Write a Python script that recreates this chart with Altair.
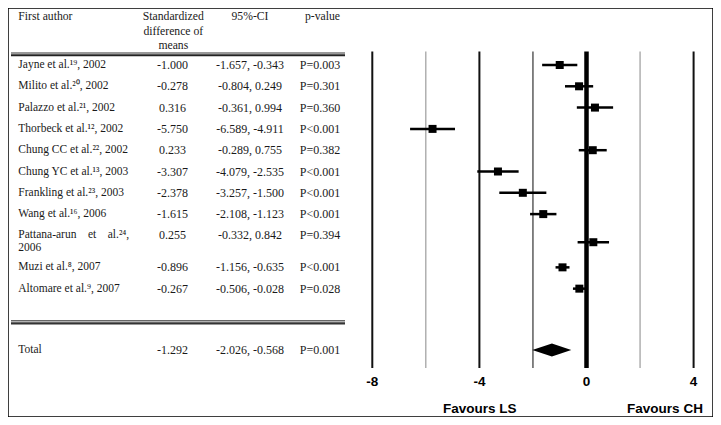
import altair as alt
import pandas as pd

# ---- data ----
authors = [
    "Jayne et al.\u00b9\u2079, 2002",
    "Milito et al.\u00b2\u2070, 2002",
    "Palazzo et al.\u00b2\u00b9, 2002",
    "Thorbeck et al.\u00b9\u00b2, 2002",
    "Chung CC et al.\u00b2\u00b2, 2002",
    "Chung YC et al.\u00b9\u00b3, 2003",
    "Frankling et al.\u00b2\u00b3, 2003",
    "Wang et al.\u00b9\u2076, 2006",
    "Pattana-arun\u00a0\u00a0\u00a0\u00a0et\u00a0\u00a0\u00a0\u00a0al.\u00b2\u2074,\n2006",
    "Muzi et al.\u2078, 2007",
    "Altomare et al.\u2079, 2007",
]
smd = [-1.000, -0.278, 0.316, -5.750, 0.233, -3.307, -2.378, -1.615, 0.255, -0.896, -0.267]
ci_lo = [-1.657, -0.804, -0.361, -6.589, -0.289, -4.079, -3.257, -2.108, -0.332, -1.156, -0.506]
ci_hi = [-0.343, 0.249, 0.994, -4.911, 0.755, -2.535, -1.500, -1.123, 0.842, -0.635, -0.028]
pvals = ["P=0.003", "P=0.301", "P=0.360", "P<0.001", "P=0.382", "P<0.001",
         "P<0.001", "P<0.001", "P=0.394", "P<0.001", "P=0.028"]
total_label = "Total"
total_smd = -1.292
total_lo = -2.026
total_hi = -0.568
total_p = "P=0.001"

headers = ["First author", "Standardized\ndifference of\nmeans", "95%-CI", "p-value"]
grid_values = [-8, -6, -4, -2, 0, 2, 4]
tick_values = [-8, -4, 0, 4]
favour_labels = ["Favours LS", "Favours CH"]

# ---- layout (row slots, pixel anchors, styles) ----
text_row = [0, 1, 2, 3, 4, 5, 6, 7, 8, 9.5, 10.5]
mark_row = [0, 1, 2, 3, 4, 5, 6, 7, 8.32, 9.5, 10.5]
total_row = 13.38
diamond_half = 0.30
grid_width = [2, 1, 2, 1.2, 4.5, 1, 2]
grid_color = ["#111", "#888", "#111", "#333", "#000", "#888", "#111"]

W, H = 705, 409
UNIT = 21.3
Y0 = -57 / UNIT
yscale = alt.Scale(domain=[Y0, Y0 + H / UNIT], reverse=True, nice=False, zero=False)
xscale = alt.Scale(domain=[-8, 4], range=[364.3, 685.6], nice=False, zero=False)

serif = "Liberation Serif"
sans = "Liberation Sans"
tcol = "#1a1a1a"

rows = pd.DataFrame({
    "author": authors,
    "smd": smd,
    "lo": ci_lo,
    "hi": ci_hi,
    "p": pvals,
    "trow": text_row,
    "mrow": mark_row,
})
rows["smd_txt"] = rows["smd"].map(lambda v: f"{v:.3f}")
rows["ci_txt"] = [f"{a:.3f}, {b:.3f}" for a, b in zip(ci_lo, ci_hi)]

tot = pd.DataFrame({
    "author": [total_label],
    "smd_txt": [f"{total_smd:.3f}"],
    "ci_txt": [f"{total_lo:.3f}, {total_hi:.3f}"],
    "p": [total_p],
    "trow": [total_row],
})
table = pd.concat([rows[["author", "smd_txt", "ci_txt", "p", "trow"]], tot], ignore_index=True)

base_t = alt.Chart(table)
y_t = alt.Y("trow:Q", scale=yscale, axis=None)

def col(field, xpix, align, size):
    return base_t.mark_text(font=serif, fontSize=size, color=tcol, align=align,
                            baseline="middle", lineBreak="\n", lineHeight=12.5).encode(
        x=alt.value(xpix), y=y_t, text=f"{field}:N")

t_author = col("author", 10.3, "left", 11.5)
t_smd = col("smd_txt", 164.5, "center", 12)
t_ci = col("ci_txt", 242, "center", 12)
t_p = col("p", 312, "center", 12)

hdr = pd.DataFrame({"h": headers, "hx": [10.3, 165.3, 242, 314.5],
                    "al": ["left", "center", "center", "center"]})
hdr_layers = []
for i, r in hdr.iterrows():
    hdr_layers.append(
        alt.Chart(hdr.iloc[[i]]).mark_text(font=serif, fontSize=11.7, color=tcol, align=r["al"],
                                           baseline="middle", lineBreak="\n", lineHeight=14.5)
        .encode(x=alt.value(r["hx"]), y=alt.value(8), text="h:N"))

# double lines of the table
def hline(ypix, w, c):
    return alt.Chart(pd.DataFrame({"a": [0]})).mark_rule(strokeWidth=w, color=c).encode(
        x=alt.value(3), x2=alt.value(337), y=alt.value(ypix))

lines_tbl = [hline(45, 1, "#333"), hline(47.2, 2, "#222"),
             hline(312.8, 1.5, "#666"), hline(315.3, 2.2, "#333")]

# vertical grid lines of the forest plot
grid = pd.DataFrame({"g": grid_values, "w": grid_width, "c": grid_color})
grid_layer = alt.Chart(grid).mark_rule().encode(
    x=alt.X("g:Q", scale=xscale, axis=None),
    y=alt.value(43.5), y2=alt.value(360),
    strokeWidth=alt.StrokeWidth("w:Q", scale=None, legend=None),
    color=alt.Color("c:N", scale=None, legend=None),
)

ci_layer = alt.Chart(rows).mark_rule(strokeWidth=2.5, color="#000").encode(
    x=alt.X("lo:Q", scale=xscale, axis=None), x2="hi:Q",
    y=alt.Y("mrow:Q", scale=yscale, axis=None))
pt_layer = alt.Chart(rows).mark_square(size=64, color="#000", opacity=1).encode(
    x=alt.X("smd:Q", scale=xscale, axis=None),
    y=alt.Y("mrow:Q", scale=yscale, axis=None))

dia = pd.DataFrame({
    "x": [total_lo, total_smd, total_hi],
    "y1": [total_row, total_row - diamond_half, total_row],
    "y2": [total_row, total_row + diamond_half, total_row],
})
dia_layer = alt.Chart(dia).mark_area(color="#000", opacity=1, orient="vertical").encode(
    x=alt.X("x:Q", scale=xscale, axis=None),
    y=alt.Y("y1:Q", scale=yscale, axis=None), y2="y2:Q")

ticks = pd.DataFrame({"t": tick_values, "lab": [str(v) for v in tick_values]})
tick_layer = alt.Chart(ticks).mark_text(font=sans, fontSize=13.5, fontWeight="bold",
                                        color="#000", baseline="middle").encode(
    x=alt.X("t:Q", scale=xscale, axis=None), y=alt.value(373.7), text="lab:N")

fav = pd.DataFrame({"lab": favour_labels, "fx": [471.7, 657]})
fav_layers = [
    alt.Chart(fav.iloc[[i]]).mark_text(font=sans, fontSize=13.5, fontWeight="bold",
                                       color="#000", baseline="middle", align="center")
    .encode(x=alt.value(float(fav["fx"][i])), y=alt.value(401), text="lab:N")
    for i in range(len(fav))
]

chart = alt.layer(
    grid_layer, ci_layer, pt_layer, dia_layer, tick_layer, *fav_layers,
    *lines_tbl, t_author, t_smd, t_ci, t_p, *hdr_layers,
).properties(
    width=W, height=H, autosize=alt.AutoSizeParams(type="none"), padding=0,
    background="white",
).configure_view(stroke="#000", strokeWidth=1.5)

chart.save("out.html", embed_options={"renderer": "svg", "actions": False})
